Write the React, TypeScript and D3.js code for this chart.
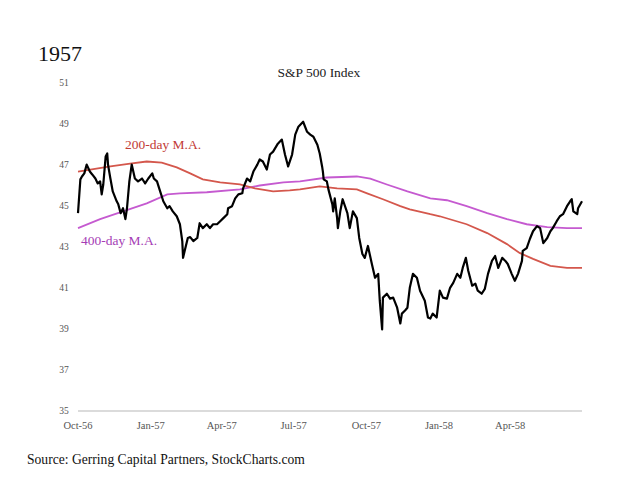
import React from "react";
import * as d3 from "d3";

const priceDates = [
  "1956-10-01","1956-10-04","1956-10-06","1956-10-09","1956-10-12","1956-10-16","1956-10-19","1956-10-23","1956-10-26","1956-10-29",
  "1956-10-31","1956-11-02","1956-11-05","1956-11-07","1956-11-08","1956-11-11","1956-11-14","1956-11-19","1956-11-21","1956-11-24",
  "1956-11-27","1956-11-30","1956-12-02","1956-12-05","1956-12-08","1956-12-10","1956-12-12","1956-12-16","1956-12-21","1956-12-25",
  "1956-12-29","1957-01-03","1957-01-05","1957-01-09","1957-01-13","1957-01-17","1957-01-22","1957-01-25","1957-01-29","1957-02-03",
  "1957-02-07","1957-02-10","1957-02-11","1957-02-13","1957-02-17","1957-02-20","1957-02-24","1957-03-01","1957-03-04","1957-03-08",
  "1957-03-13","1957-03-17","1957-03-21","1957-03-26","1957-03-30","1957-04-03","1957-04-08","1957-04-09","1957-04-14","1957-04-18",
  "1957-04-22","1957-04-27","1957-04-28","1957-05-03","1957-05-07","1957-05-11","1957-05-16","1957-05-19","1957-05-23","1957-05-28",
  "1957-06-01","1957-06-05","1957-06-11","1957-06-16","1957-06-20","1957-06-24","1957-06-29","1957-07-03","1957-07-07","1957-07-13",
  "1957-07-18","1957-07-22","1957-07-26","1957-07-31","1957-08-03","1957-08-06","1957-08-07","1957-08-08","1957-08-12","1957-08-14",
  "1957-08-19","1957-08-20","1957-08-22","1957-08-25","1957-08-26","1957-08-29","1957-09-01","1957-09-07","1957-09-10","1957-09-14",
  "1957-09-19","1957-09-22","1957-09-26","1957-09-29","1957-10-03","1957-10-08","1957-10-12","1957-10-16","1957-10-18","1957-10-21",
  "1957-10-22","1957-10-27","1957-10-31","1957-11-04","1957-11-09","1957-11-13","1957-11-15","1957-11-19","1957-11-22","1957-11-25",
  "1957-11-29","1957-12-04","1957-12-08","1957-12-14","1957-12-18","1957-12-21","1957-12-24","1957-12-29","1958-01-02","1958-01-06",
  "1958-01-11","1958-01-15","1958-01-19","1958-01-24","1958-01-28","1958-01-31","1958-02-04","1958-02-07","1958-02-12","1958-02-16",
  "1958-02-19","1958-02-24","1958-02-28","1958-03-04","1958-03-09","1958-03-13","1958-03-17","1958-03-22","1958-03-26","1958-03-29",
  "1958-04-03","1958-04-07","1958-04-11","1958-04-16","1958-04-17","1958-04-22","1958-04-26","1958-04-30","1958-05-05","1958-05-09",
  "1958-05-13","1958-05-18","1958-05-22","1958-05-25","1958-05-30","1958-06-03","1958-06-07","1958-06-12","1958-06-16","1958-06-18",
  "1958-06-20","1958-06-25","1958-06-26","1958-07-01"
];
const priceValues = [
  44.65,46.30,46.44,46.59,47.02,46.68,46.54,46.34,46.10,46.20,
  45.57,46.05,47.41,47.56,47.02,46.34,45.71,45.23,45.08,44.65,
  44.89,44.36,44.89,46.20,47.02,46.68,46.34,46.20,46.34,46.10,
  46.34,46.59,46.34,46.20,45.71,45.23,44.89,44.99,44.74,44.50,
  44.11,43.29,42.47,42.81,43.44,43.48,43.29,43.44,44.16,43.92,
  44.11,43.92,44.11,44.11,44.26,44.41,44.60,44.89,44.99,45.37,
  45.57,45.62,45.86,46.34,46.20,46.68,47.02,47.27,47.17,46.78,
  47.51,47.65,48.04,48.24,47.51,46.93,47.51,48.48,48.87,49.11,
  48.62,48.48,48.38,47.99,47.56,46.93,46.68,46.30,46.20,45.81,
  45.08,44.74,45.37,44.41,43.92,44.74,45.33,44.65,43.92,44.74,
  44.41,43.44,42.66,42.47,43.05,42.17,41.50,41.69,40.38,38.98,
  40.53,40.72,40.48,40.53,40.04,39.27,39.75,39.90,40.04,41.01,
  41.69,41.50,40.87,40.38,39.56,39.51,39.75,39.56,40.87,40.53,
  40.48,41.01,41.25,41.69,41.50,41.98,42.47,41.84,41.11,41.21,
  40.87,40.72,40.96,41.69,42.32,42.56,41.98,42.47,42.32,42.17,
  41.69,41.35,41.69,42.32,42.81,42.95,43.39,43.77,44.02,43.92,
  43.19,43.44,43.77,43.92,44.26,44.50,44.60,44.99,45.23,45.33,
  44.74,44.60,44.89,45.23
];

const ma200Dates = [
  "1956-10-01","1956-11-11","1956-12-06","1956-12-27","1957-01-15","1957-02-03","1957-02-20","1957-03-08","1957-03-30","1957-04-24",
  "1957-05-13","1957-06-05","1957-06-26","1957-07-09","1957-08-03","1957-08-25","1957-09-19","1957-10-02","1957-10-22","1957-11-13",
  "1957-11-25","1957-12-21","1958-01-02","1958-02-05","1958-03-03","1958-03-28","1958-04-13","1958-04-30","1958-05-22","1958-06-12",
  "1958-07-01"
];
const ma200Values = [
  46.68,46.93,47.07,47.17,47.12,46.88,46.59,46.30,46.15,46.05,
  45.86,45.71,45.76,45.81,45.96,45.86,45.81,45.62,45.33,44.99,
  44.84,44.60,44.50,44.11,43.68,43.14,42.71,42.42,42.08,41.98,
  41.98
];

const ma400Dates = [
  "1956-10-01","1956-10-29","1956-11-27","1956-12-27","1957-01-22","1957-02-07","1957-03-13","1957-04-24","1957-05-19","1957-06-18",
  "1957-07-09","1957-08-12","1957-09-19","1957-10-06","1957-10-27","1957-11-22","1957-12-21","1958-01-11","1958-02-05","1958-03-03",
  "1958-03-28","1958-04-22","1958-05-18","1958-06-12","1958-07-01"
];
const ma400Values = [
  43.92,44.36,44.74,45.13,45.57,45.62,45.67,45.81,46.00,46.15,
  46.20,46.39,46.44,46.34,46.05,45.71,45.37,45.28,44.99,44.65,
  44.36,44.11,43.97,43.92,43.92
];

const yTicks = [35, 37, 39, 41, 43, 45, 47, 49, 51];
const xTickDates = ["1956-10-01","1957-01-01","1957-04-01","1957-07-01","1957-10-01","1958-01-01","1958-04-01"];

const parse = d3.timeParse("%Y-%m-%d");
const fmt = d3.timeFormat("%b-%y");

const FONT = "'Liberation Serif', 'DejaVu Serif', serif";

export default function App() {
  const x = d3.scaleTime()
    .domain([parse("1956-10-01")!, parse("1958-07-01")!])
    .range([78, 582]);
  const y = d3.scaleLinear().domain([35, 51]).range([411, 83]);

  const mk = (dates: string[], vals: number[]) =>
    d3.line<number>()
      .x((_, i) => x(parse(dates[i])!))
      .y((v) => y(v))(vals) || "";

  return (
    <svg width={640} height={480} style={{ position: "absolute", left: 0, top: 0, background: "#fff" }}>
      <rect x={0} y={0} width={640} height={480} fill="#fff" />
      <text x={38} y={61} fontFamily={FONT} fontSize={22} fill="#111">1957</text>
      <text x={319} y={77} fontFamily={FONT} fontSize={13.5} fill="#222" textAnchor="middle">S&amp;P 500 Index</text>

      {yTicks.map((t) => (
        <text key={t} x={64} y={y(t) + 3} fontFamily={FONT} fontSize={9.5} fill="#555" textAnchor="middle">{t}</text>
      ))}
      <line x1={78} x2={582} y1={y(35)} y2={y(35)} stroke="#cfcfcf" strokeWidth={1.5} />
      {xTickDates.map((d) => (
        <text key={d} x={x(parse(d)!)} y={429} fontFamily={FONT} fontSize={10.5} fill="#555" textAnchor="middle">{fmt(parse(d)!)}</text>
      ))}

      <path d={mk(ma400Dates, ma400Values)} fill="none" stroke="#c55ad0" strokeWidth={1.8} />
      <path d={mk(ma200Dates, ma200Values)} fill="none" stroke="#d4574c" strokeWidth={1.8} />
      <path d={mk(priceDates, priceValues)} fill="none" stroke="#000" strokeWidth={2.2} strokeLinejoin="round" />

      <text x={125} y={149} fontFamily={FONT} fontSize={13.5} fill="#c23b36">200-day M.A.</text>
      <text x={81} y={245} fontFamily={FONT} fontSize={13.5} fill="#a53db5">400-day M.A.</text>

      <text x={27} y={464} fontFamily={FONT} fontSize={13.6} fill="#111">Source: Gerring Capital Partners, StockCharts.com</text>
    </svg>
  );
}
